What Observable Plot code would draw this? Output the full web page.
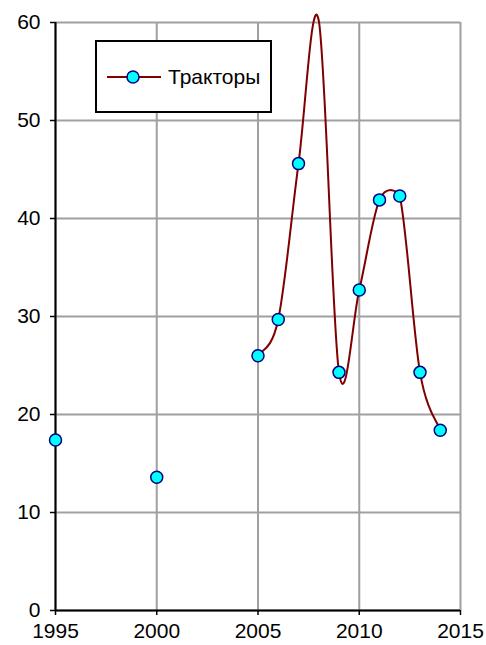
<!DOCTYPE html>
<html>
<head>
<meta charset="utf-8">
<script src="https://cdn.jsdelivr.net/npm/d3@7"></script>
<script src="https://cdn.jsdelivr.net/npm/@observablehq/plot@0.6"></script>
<style>
  html, body { margin: 0; padding: 0; background: #fff; }
  #wrap { position: relative; width: 486px; height: 645px; font-family: "Liberation Sans", Arial, sans-serif; }
  #legend { position: absolute; left: 95px; top: 40px; width: 173px; height: 69px; border: 2px solid #000; background: #fff;
            display: flex; align-items: center; box-sizing: content-box; }
  #legend span { font-size: 21px; color: #000; }
</style>
</head>
<body>
<div id="wrap"></div>
<script>
const years  = [1995, 1996, 1997, 1998, 1999, 2000, 2001, 2002, 2003, 2004, 2005, 2006, 2007, 2008, 2009, 2010, 2011, 2012, 2013, 2014];
const values = [17.4, null, null, null, null, 13.6, null, null, null, null, 26.0, 29.7, 45.6, 60.2, 24.3, 32.7, 41.9, 42.3, 24.3, 18.4];
const xTicks = [1995, 2000, 2005, 2010, 2015];
const yTicks = [0, 10, 20, 30, 40, 50, 60];
const seriesName = "Тракторы";

const data = years.map((year, i) => ({year, value: values[i]}));

// Spreadsheet-style smoothed line: cubic Bezier with (P[i+1]-P[i-1])/6 tangents,
// damped where a tangent is longer than the segment it belongs to.
function smoothCurve(context) {
  let pts = [];
  const tangent = (i) => {
    const p0 = pts[Math.max(0, i - 1)], p1 = pts[Math.min(pts.length - 1, i + 1)];
    return [(p1[0] - p0[0]) / 6, (p1[1] - p0[1]) / 6];
  };
  const limit = (t, L) => {
    const m = Math.hypot(t[0], t[1]);
    if (m > L && m > 0) { const s = 0.25 * L / m; return [t[0] * s, t[1] * s]; }
    return t;
  };
  return {
    areaStart() {}, areaEnd() {},
    lineStart() { pts = []; },
    point(x, y) { pts.push([+x, +y]); },
    lineEnd() {
      if (!pts.length) return;
      context.moveTo(pts[0][0], pts[0][1]);
      for (let i = 0; i < pts.length - 1; i++) {
        const a = pts[i], b = pts[i + 1];
        const L = Math.hypot(b[0] - a[0], b[1] - a[1]);
        const ta = limit(tangent(i), L), tb = limit(tangent(i + 1), L);
        context.bezierCurveTo(a[0] + ta[0], a[1] + ta[1], b[0] - tb[0], b[1] - tb[1], b[0], b[1]);
      }
    }
  };
}

const chart = Plot.plot({
  width: 486,
  height: 645,
  marginLeft: 55,
  marginRight: 26,
  marginTop: 22,
  marginBottom: 35,
  style: {fontFamily: "Liberation Sans, Arial, sans-serif", fontSize: "21px", color: "#000", background: "#fff", overflow: "visible"},
  x: {domain: [1995, 2015]},
  y: {domain: [0, 60]},
  marks: [
    Plot.gridX(xTicks, {stroke: "#a0a0a0", strokeOpacity: 1, strokeWidth: 2}),
    Plot.gridY(yTicks, {stroke: "#a0a0a0", strokeOpacity: 1, strokeWidth: 2}),
    Plot.axisX(xTicks, {tickFormat: d => String(d), tickSize: 5, tickPadding: 8, fontSize: 21, label: null, stroke: "#000", strokeWidth: 1.5}),
    Plot.axisY(yTicks, {tickSize: 5, tickPadding: 10, fontSize: 21, label: null, stroke: "#000", strokeWidth: 1.5}),
    Plot.ruleY([0], {stroke: "#000", strokeWidth: 2}),
    Plot.ruleX([1995], {stroke: "#000", strokeWidth: 2}),
    Plot.line(data, {x: "year", y: "value", curve: smoothCurve, stroke: "#800000", strokeWidth: 2}),
    Plot.dot(data, {x: "year", y: "value", filter: d => d.value != null && d.value <= 60, r: 6, fill: "#00ffff", stroke: "#000080", strokeWidth: 1.5})
  ]
});

const wrap = document.getElementById("wrap");
wrap.appendChild(chart);

const legend = document.createElement("div");
legend.id = "legend";
legend.innerHTML = `<svg width="60" height="20" style="margin-left:10px"><line x1="0" x2="54" y1="10" y2="10" stroke="#800000" stroke-width="2"/><circle cx="26" cy="10" r="6" fill="#00ffff" stroke="#000080" stroke-width="1.5"/></svg>`;
const label = document.createElement("span");
label.textContent = seriesName;
label.style.marginLeft = "1px";
legend.appendChild(label);
wrap.appendChild(legend);
</script>
</body>
</html>
